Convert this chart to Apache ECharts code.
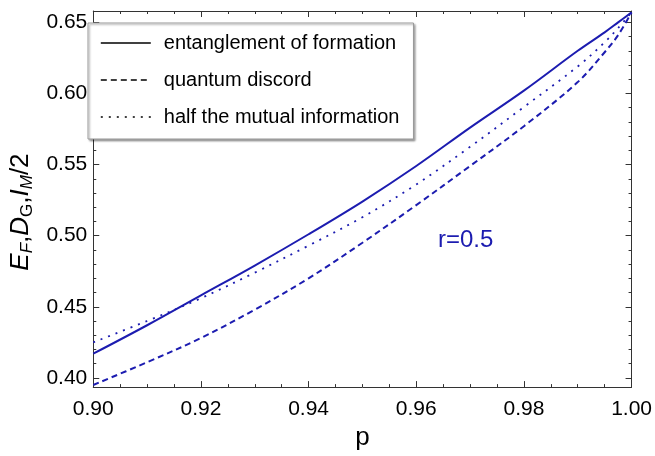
<!DOCTYPE html>
<html>
<head>
<meta charset="utf-8">
<script src="https://cdn.jsdelivr.net/npm/echarts@6/dist/echarts.min.js"></script>
<style>
html,body{margin:0;padding:0;background:#fff;}
#chart{width:655px;height:456px;}
</style>
</head>
<body>
<div id="chart"></div>
<script>
// ---- data ----
const pValues = [0.90, 0.91, 0.92, 0.93, 0.94, 0.95, 0.96, 0.97, 0.98, 0.99, 0.995, 0.9975, 1.00];
const entanglementOfFormation = [0.417, 0.437, 0.458, 0.479, 0.501, 0.524, 0.549, 0.576, 0.602, 0.630, 0.643, 0.650, 0.657];
const quantumDiscord = [0.395, 0.411, 0.428, 0.448, 0.470, 0.495, 0.5215, 0.549, 0.577, 0.608, 0.629, 0.641, 0.657];
const halfMutualInfo = [0.425, 0.440, 0.456, 0.474, 0.493, 0.513, 0.536, 0.5625, 0.5905, 0.619, 0.636, 0.646, 0.657];
const seriesNames = ['entanglement of formation', 'quantum discord', 'half the mutual information'];
const yMajorTicks = [0.40, 0.45, 0.50, 0.55, 0.60, 0.65];
const yMinorTicks = [0.40,0.41,0.42,0.43,0.44,0.45,0.46,0.47,0.48,0.49,0.50,0.51,0.52,0.53,0.54,0.55,0.56,0.57,0.58,0.59,0.60,0.61,0.62,0.63,0.64,0.65];
const annotation = 'r=0.5';

const FONT = 'Liberation Sans, Arial, Helvetica, sans-serif';
const BLUE = '#1c1cb0';
const AXIS = '#333';

const zip = (xs, ys) => xs.map((x, i) => [x, ys[i]]);

const chart = echarts.init(document.getElementById('chart'), null, {renderer: 'canvas'});

const yBase = {
  type: 'value', min: 0.3935, max: 0.658, gridIndex: 0,
  splitLine: {show: false}, axisLine: {onZero: false}
};
const xBase = {
  type: 'value', min: 0.9, max: 1.0, interval: 0.02,
  splitLine: {show: false}, axisLine: {onZero: false, lineStyle: {color: AXIS, width: 1}},
  axisTick: {inside: true, length: 6, lineStyle: {color: AXIS}},
  minorTick: {show: true, splitNumber: 4, length: 3, lineStyle: {color: AXIS}},
  minorSplitLine: {show: false}
};

chart.setOption({
  animation: false,
  backgroundColor: '#fff',
  textStyle: {fontFamily: FONT},
  grid: {left: 87, right: 23, top: 11, bottom: 64, containLabel: false},
  xAxis: [
    Object.assign({}, xBase, {
      position: 'bottom',
      name: 'p', nameLocation: 'middle', nameGap: 30,
      nameTextStyle: {fontSize: 26, color: '#000', fontFamily: FONT},
      axisLabel: {show: true, margin: 12, fontSize: 21, color: '#000', fontFamily: FONT,
        formatter: v => v.toFixed(2)}
    }),
    Object.assign({}, xBase, {position: 'top', axisLabel: {show: false}})
  ],
  yAxis: [
    Object.assign({}, yBase, {
      position: 'left',
      axisLine: {show: true, onZero: false, lineStyle: {color: AXIS}},
      axisTick: {show: true, inside: true, length: 6, customValues: yMajorTicks, lineStyle: {color: AXIS}},
      axisLabel: {show: true, margin: 6, fontSize: 21, color: '#000', fontFamily: FONT,
        customValues: yMajorTicks, formatter: v => v.toFixed(2)},
      name: '{i|E}{si|F}{n|,}{i|D}{s|G}{n|,}{i|I}{si|M}{n|/2}',
      nameLocation: 'middle', nameGap: 50,
      nameTextStyle: {
        color: '#000', fontFamily: FONT, fontSize: 26, padding: [0, 26, 0, 0],
        rich: {
          i: {fontStyle: 'italic', fontSize: 26, fontFamily: FONT, color: '#000'},
          n: {fontSize: 26, fontFamily: FONT, color: '#000'},
          si: {fontStyle: 'italic', fontSize: 17, fontFamily: FONT, color: '#000', padding: [12, 0, 0, 0]},
          s: {fontSize: 17, fontFamily: FONT, color: '#000', padding: [12, 0, 0, 0]}
        }
      }
    }),
    Object.assign({}, yBase, {
      position: 'left',
      axisLine: {show: false, onZero: false},
      axisTick: {show: true, inside: true, length: 3, customValues: yMinorTicks, lineStyle: {color: AXIS}},
      axisLabel: {show: false}
    }),
    Object.assign({}, yBase, {
      position: 'right',
      axisLine: {show: true, onZero: false, lineStyle: {color: AXIS}},
      axisTick: {show: true, inside: true, length: 6, customValues: yMajorTicks, lineStyle: {color: AXIS}},
      axisLabel: {show: false}
    }),
    Object.assign({}, yBase, {
      position: 'right',
      axisLine: {show: false, onZero: false},
      axisTick: {show: true, inside: true, length: 3, customValues: yMinorTicks, lineStyle: {color: AXIS}},
      axisLabel: {show: false}
    })
  ],
  legend: {
    show: true, orient: 'vertical', left: 88, top: 23,
    padding: [10, 14, 12, 12], itemGap: 17, itemWidth: 50, itemHeight: 14,
    backgroundColor: '#fff', borderColor: '#999', borderWidth: 1,
    shadowColor: 'rgba(0,0,0,0.35)', shadowBlur: 2, shadowOffsetX: 1.5, shadowOffsetY: 1.5,
    textStyle: {fontSize: 20, color: '#000', fontFamily: FONT, padding: [0, 0, 0, 8]},
    lineStyle: {color: '#000', width: 1.6},
    itemStyle: {opacity: 0, color: 'rgba(0,0,0,0)', borderWidth: 0},
    data: seriesNames,
    z: 10
  },
  graphic: [{
    type: 'text', left: 438, top: 228, z: 5,
    style: {text: annotation, fontSize: 24, fill: BLUE, fontFamily: FONT}
  }],
  series: [
    {
      name: seriesNames[0], type: 'line', xAxisIndex: 0, yAxisIndex: 0,
      data: zip(pValues, entanglementOfFormation), smooth: 0.35, symbol: 'none',
      lineStyle: {color: BLUE, width: 2, type: 'solid'}, itemStyle: {color: BLUE}, clip: true
    },
    {
      name: seriesNames[1], type: 'line', xAxisIndex: 0, yAxisIndex: 0,
      data: zip(pValues, quantumDiscord), smooth: 0.35, symbol: 'none',
      lineStyle: {color: BLUE, width: 2, type: [6, 4]}, itemStyle: {color: BLUE}, clip: true
    },
    {
      name: seriesNames[2], type: 'line', xAxisIndex: 0, yAxisIndex: 0,
      data: zip(pValues, halfMutualInfo), smooth: 0.35, symbol: 'none',
      lineStyle: {color: BLUE, width: 1.8, type: [2, 6]}, itemStyle: {color: BLUE}, clip: true
    }
  ]
});
</script>
</body>
</html>
